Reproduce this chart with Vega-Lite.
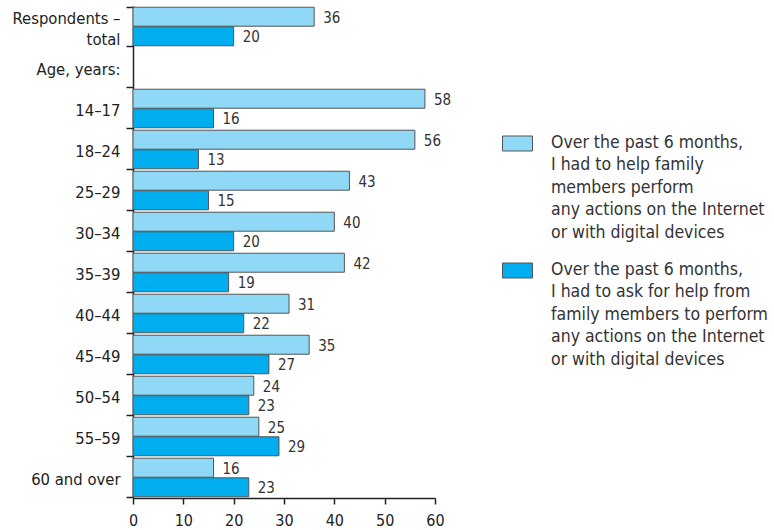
{
  "$schema": "https://vega.github.io/schema/vega-lite/v6.json",
  "width": 302,
  "height": 492,
  "autosize": {"type": "none"},
  "padding": {"left": 133, "top": 6, "right": 339, "bottom": 32},
  "background": "white",
  "config": {
    "view": {"stroke": null},
    "font": "Liberation Sans Narrow, DejaVu Sans Condensed, sans-serif"
  },
  "data": {
    "values": [
      {"cat": "Respondents – total", "series": "help", "value": 36},
      {"cat": "Respondents – total", "series": "ask", "value": 20},
      {"cat": "14–17", "series": "help", "value": 58},
      {"cat": "14–17", "series": "ask", "value": 16},
      {"cat": "18–24", "series": "help", "value": 56},
      {"cat": "18–24", "series": "ask", "value": 13},
      {"cat": "25–29", "series": "help", "value": 43},
      {"cat": "25–29", "series": "ask", "value": 15},
      {"cat": "30–34", "series": "help", "value": 40},
      {"cat": "30–34", "series": "ask", "value": 20},
      {"cat": "35–39", "series": "help", "value": 42},
      {"cat": "35–39", "series": "ask", "value": 19},
      {"cat": "40–44", "series": "help", "value": 31},
      {"cat": "40–44", "series": "ask", "value": 22},
      {"cat": "45–49", "series": "help", "value": 35},
      {"cat": "45–49", "series": "ask", "value": 27},
      {"cat": "50–54", "series": "help", "value": 24},
      {"cat": "50–54", "series": "ask", "value": 23},
      {"cat": "55–59", "series": "help", "value": 25},
      {"cat": "55–59", "series": "ask", "value": 29},
      {"cat": "60 and over", "series": "help", "value": 16},
      {"cat": "60 and over", "series": "ask", "value": 23}
    ]
  },
  "encoding": {
    "y": {
      "field": "cat",
      "type": "nominal",
      "scale": {
        "domain": ["Respondents – total", "Age, years:", "14–17", "18–24", "25–29", "30–34", "35–39", "40–44", "45–49", "50–54", "55–59", "60 and over"],
        "paddingInner": 0.06,
        "paddingOuter": 0.03
      },
      "axis": {
        "title": null,
        "domainColor": "#222",
        "domainWidth": 1.5,
        "tickColor": "#222",
        "tickWidth": 1.5,
        "tickSize": 7,
        "tickBand": "extent",
        "labelFontSize": 16.5,
        "labelColor": "#222",
        "labelPadding": 6,
        "labelLimit": 0,
        "labelFont": "DejaVu Sans Condensed",
        "labelExpr": "datum.label == 'Respondents – total' ? ['Respondents –', 'total'] : datum.label",
        "labelLineHeight": 21,
        "labelOffset": {"condition": {"test": "datum.value == 'Respondents – total'", "value": -8}, "value": 2}
      }
    },
    "yOffset": {
      "field": "series",
      "type": "nominal",
      "sort": ["help", "ask"],
      "scale": {"paddingInner": 0.03, "paddingOuter": 0}
    },
    "x": {
      "field": "value",
      "type": "quantitative",
      "scale": {"domain": [0, 60], "nice": false},
      "axis": {
        "title": null,
        "grid": false,
        "values": [0, 10, 20, 30, 40, 50, 60],
        "domainColor": "#222",
        "domainWidth": 1.5,
        "tickColor": "#222",
        "tickWidth": 1.5,
        "tickSize": 6,
        "labelFontSize": 16,
        "labelColor": "#222",
        "labelPadding": 8,
        "labelFlush": false
      }
    }
  },
  "layer": [
    {
      "mark": {"type": "bar", "stroke": "#555", "strokeWidth": 1},
      "encoding": {
        "color": {
          "field": "series",
          "type": "nominal",
          "scale": {"domain": ["help", "ask"], "range": ["#8fd8f6", "#00adee"]},
          "legend": {
            "title": null,
            "orient": "none",
            "legendX": 369,
            "legendY": 122,
            "symbolType": "M-1,-0.5H1V0.5H-1Z",
            "symbolSize": 900,
            "symbolStrokeColor": "#555",
            "symbolStrokeWidth": 1,
            "symbolOpacity": 1,
            "labelFont": "DejaVu Sans Condensed",
            "labelFontSize": 17.5,
            "labelColor": "#333",
            "labelLimit": 0,
            "labelOffset": 18,
            "labelBaseline": "top",
            "rowPadding": 14,
            "labelExpr": "datum.label == 'help' ? ['Over the past 6 months,', 'I had to help family', 'members perform', 'any actions on the Internet', 'or with digital devices'] : ['Over the past 6 months,', 'I had to ask for help from', 'family members to perform', 'any actions on the Internet', 'or with digital devices']",
            "encode": {"labels": {"update": {"dy": {"value": -10}, "lineHeight": {"value": 22.5}}}}
          }
        }
      }
    },
    {
      "mark": {"type": "text", "align": "left", "baseline": "middle", "dx": 9, "dy": 1, "fontSize": 15, "color": "#333"},
      "encoding": {"text": {"field": "value", "type": "quantitative"}}
    }
  ]
}
